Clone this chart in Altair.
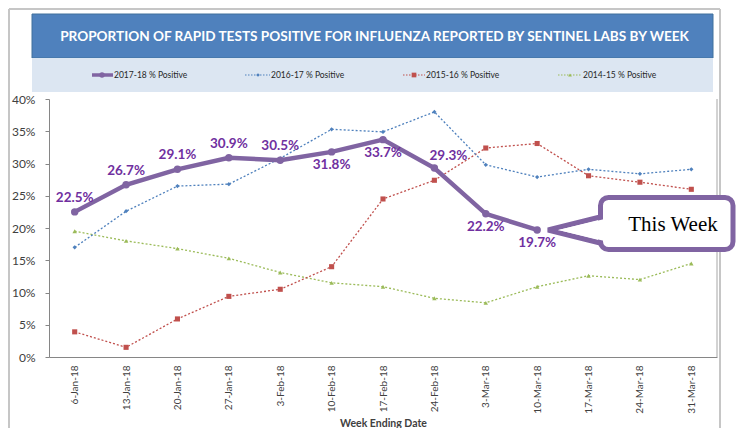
import altair as alt
import pandas as pd

weeks = ["6-Jan-18", "13-Jan-18", "20-Jan-18", "27-Jan-18", "3-Feb-18", "10-Feb-18",
         "17-Feb-18", "24-Feb-18", "3-Mar-18", "10-Mar-18", "17-Mar-18", "24-Mar-18", "31-Mar-18"]
pos_2017_18 = [22.5, 26.7, 29.1, 30.9, 30.5, 31.8, 33.7, 29.3, 22.2, 19.7]
pos_2016_17 = [17.0, 22.6, 26.5, 26.8, 30.8, 35.3, 34.9, 38.0, 29.8, 27.9, 29.1, 28.4, 29.1]
pos_2015_16 = [3.9, 1.5, 5.9, 9.4, 10.5, 14.0, 24.5, 27.4, 32.4, 33.1, 28.1, 27.1, 26.0]
pos_2014_15 = [19.5, 18.0, 16.8, 15.3, 13.1, 11.5, 10.9, 9.1, 8.4, 10.9, 12.6, 12.0, 14.5]
series_names = ["2017-18 % Positive", "2016-17 % Positive", "2015-16 % Positive", "2014-15 % Positive"]
y_ticks = [0, 5, 10, 15, 20, 25, 30, 35, 40]
title_text = "PROPORTION OF RAPID TESTS POSITIVE FOR INFLUENZA REPORTED BY SENTINEL LABS BY WEEK"
callout_text = "This Week"
x_title = "Week Ending Date"

PURPLE = "#8064A2"
LABEL = "#7030A0"
BLUE = "#4F81BD"
RED = "#C0504D"
GREEN = "#9BBB59"
GRAYTXT = "#404040"
FONT = "Lato"


def sdf(vals):
    return pd.DataFrame({"week": weeks[:len(vals)], "pct": vals})


x_enc = alt.X("week:N", sort=weeks,
              scale=alt.Scale(type="point", padding=0.5, domain=weeks),
              axis=alt.Axis(title=x_title, labelAngle=270, ticks=False, labelPadding=8,
                            labelFontSize=10, labelColor=GRAYTXT, labelFont=FONT,
                            domainColor="#868686", titleFont=FONT, titleFontSize=10.5,
                            titleFontWeight="bold", titleColor=GRAYTXT, titleY=66,
                            titleBaseline="middle"))
y_enc = alt.Y("pct:Q", scale=alt.Scale(domain=[0, 40]),
              axis=alt.Axis(title=None, values=y_ticks, labelExpr="datum.value + '%'",
                            grid=False, tickSize=4, labelPadding=10, labelFontSize=12,
                            labelFont=FONT, labelColor=GRAYTXT, domainColor="#868686",
                            tickColor="#868686"))

one = alt.Data(values=[{"a": 1}])


def rect(x, x2, y, y2, **kw):
    return alt.Chart(one).mark_rect(**kw).encode(
        x=alt.value(x), x2=alt.value(x2), y=alt.value(y), y2=alt.value(y2))


def hrule(x, x2, y, **kw):
    return alt.Chart(one).mark_rule(**kw).encode(x=alt.value(x), x2=alt.value(x2), y=alt.value(y))


def vrule(x, y, y2, **kw):
    return alt.Chart(one).mark_rule(**kw).encode(x=alt.value(x), y=alt.value(y), y2=alt.value(y2))


def txt(x, y, s, **kw):
    return alt.Chart(one).mark_text(**kw).encode(x=alt.value(x), y=alt.value(y), text=alt.value(s))


def pt(x, y, **kw):
    return alt.Chart(one).mark_point(**kw).encode(x=alt.value(x), y=alt.value(y))


layers = []
# frame
FR = "#C6C6C6"
layers += [vrule(-40, -90, 330, color=FR, strokeWidth=2),
           hrule(-40, 671, -90, color=FR, strokeWidth=2),
           vrule(671, -90, 330, color=FR, strokeWidth=2)]
# title bar & legend band
layers += [rect(-17, 664, -85, -41, fill=BLUE, stroke="#41719C", strokeWidth=1),
           txt(325.5, -62, title_text, color="white", font=FONT,
               fontWeight="bold", fontSize=13.6, align="center", baseline="middle"),
           rect(-17, 664, -41, -7, fill="#DCE6F2")]
# legend entries
leg_y = -24
styles = [
    dict(color=PURPLE, dash=None, width=3.5, shape="circle", size=30),
    dict(color=BLUE, dash=[1.5, 1.5], width=1, shape="diamond", size=14),
    dict(color=RED, dash=[1.5, 1.5], width=1, shape="square", size=22),
    dict(color=GREEN, dash=[1.5, 1.5], width=1, shape="triangle-up", size=14),
]
leg_x0 = [43, 196, 354, 509]
leg_x1 = [64, 221, 376, 533]
leg_m = [53, 209, 365, 521]
for name, st, a, b, m in zip(series_names, styles, leg_x0, leg_x1, leg_m):
    kw = dict(color=st["color"], strokeWidth=st["width"])
    if st["dash"]:
        kw["strokeDash"] = st["dash"]
    layers.append(hrule(a, b, leg_y, **kw))
    layers.append(pt(m, leg_y, shape=st["shape"], size=st["size"], filled=True, color=st["color"], opacity=1))
    layers.append(txt(b + 1, leg_y, name, align="left", baseline="middle", fontSize=8.5,
                      font=FONT, color="#262626"))
# plot right border
layers.append(vrule(668, 0, 258, color="#A6A6A6", strokeWidth=1))

# dotted series
for vals, color, shape, size in [(pos_2014_15, GREEN, "triangle-up", 20),
                                 (pos_2015_16, RED, "square", 26),
                                 (pos_2016_17, BLUE, "diamond", 18)]:
    base = alt.Chart(sdf(vals)).encode(x=x_enc, y=y_enc)
    layers.append(base.mark_line(color=color, strokeDash=[2, 2], strokeWidth=1.3))
    layers.append(base.mark_point(shape=shape, size=size, filled=True, color=color, opacity=1))

# 2017-18 series
main = alt.Chart(sdf(pos_2017_18)).encode(x=x_enc, y=y_enc)
layers.append(main.mark_line(color=PURPLE, strokeWidth=4.5))
layers.append(main.mark_point(shape="circle", size=55, filled=True, color=PURPLE, opacity=1))

lab = main.transform_calculate(lab="format(datum.pct, '.1f') + '%'")
above = weeks[0:5]
below = weeks[5:7] + weeks[8:10]
right_above = [weeks[7]]
lab_kw = dict(color=LABEL, fontSize=13.5, font=FONT, fontWeight="bold", baseline="middle")
layers.append(lab.transform_filter(alt.FieldOneOfPredicate(field="week", oneOf=above))
              .mark_text(dy=-14, **lab_kw).encode(text="lab:N"))
layers.append(lab.transform_filter(alt.FieldOneOfPredicate(field="week", oneOf=below))
              .mark_text(dy=13, **lab_kw).encode(text="lab:N"))
layers.append(lab.transform_filter(alt.FieldOneOfPredicate(field="week", oneOf=right_above))
              .mark_text(dy=-12, dx=14, **lab_kw).encode(text="lab:N"))

# callout
layers.append(pt(529.5, 131, shape="M -1 0 L 1 -0.5 L 1 0.5 Z", size=3721, filled=True,
                 fill="white", stroke=PURPLE, strokeWidth=5, opacity=1, fillOpacity=1, strokeOpacity=1))
layers.append(rect(551.5, 684, 98.5, 150.5, fill="white", stroke=PURPLE, strokeWidth=5, cornerRadius=8))
layers.append(pt(535.5, 131, shape="M -1 0 L 1 -0.47 L 1 0.47 Z", size=2809, filled=True,
                 fill="white", strokeWidth=0, opacity=1, fillOpacity=1))
layers.append(txt(624, 126, callout_text, font="Liberation Serif", fontSize=21, color="black",
                  align="center", baseline="middle"))

chart = alt.layer(*layers).properties(
    width=668, height=258,
    padding={"left": 41, "top": 91, "right": 19, "bottom": 71},
    autosize=alt.AutoSizeParams(type="none"),
    background="white",
).configure_view(stroke=None)

chart.save("out.html", embed_options={"renderer": "svg", "actions": False})
